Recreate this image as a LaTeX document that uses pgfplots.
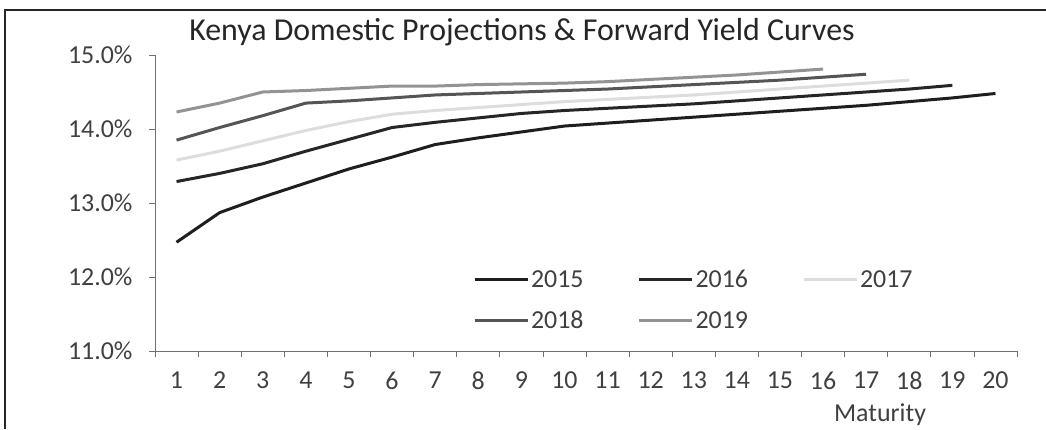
\documentclass[border=0pt]{standalone}
\usepackage{fontspec}
\setmainfont{Carlito}
\usepackage{pgfplots}
\pgfplotsset{compat=1.18}
\definecolor{c15}{HTML}{1E1E1E}
\definecolor{c16}{HTML}{262626}
\definecolor{c17}{HTML}{DDDDDD}
\definecolor{c18}{HTML}{555555}
\definecolor{c19}{HTML}{939393}
\definecolor{axc}{HTML}{707070}
\definecolor{txt}{HTML}{404040}
\begin{document}
\begin{tikzpicture}[x=1bp,y=1bp]
\path[use as bounding box] (0,0) rectangle (1046,429);
\draw[line width=1.5bp, black!85] (5,0) -- (5,419) -- (1046,419);
\begin{axis}[
  at={(155bp,78bp)}, anchor=origin,
  scale only axis, width=862bp, height=296bp,
  xmin=0.5, xmax=20.5, ymin=11, ymax=15,
  axis x line*=bottom, axis y line*=left,
  axis line style={axc, line width=0.8bp},
  xtick={1,...,20}, major x tick style={draw=none},
  minor xtick={0.5,1.5,...,20.5},
  minor x tick style={axc, line width=0.8bp},
  ytick={11,12,13,14,15},
  y tick style={axc, line width=0.8bp},
  tick align=outside, major tick length=6bp, minor tick length=6bp,
  tick label style={font=\fontsize{26}{28}\selectfont, text=txt},
  /pgf/number format/assume math mode=true,
  yticklabel={\pgfmathprintnumber[fixed,fixed zerofill,precision=1]{\tick}\%},
  yticklabel style={xshift=-13bp},
  xticklabel style={yshift=-11bp},
  legend columns=3,
  legend style={at={(0.369,0.172)}, anchor=west, draw=none, fill=none,
    inner sep=0pt, outer sep=0pt,
    font=\fontsize{26}{28}\selectfont, text=txt,
    /tikz/row sep=18bp,
    /tikz/every even column/.append style={column sep=52bp}},
  legend image code/.code={\draw[#1] (0bp,0bp) -- (53bp,0bp);},
  every axis plot/.append style={line width=3bp},
]
\addplot[c15] coordinates {(1,12.47)(2,12.87)(3,13.08)(4,13.27)(5,13.46)(6,13.62)(7,13.79)(8,13.88)(9,13.96)(10,14.04)(11,14.08)(12,14.12)(13,14.16)(14,14.20)(15,14.24)(16,14.28)(17,14.32)(18,14.37)(19,14.42)(20,14.48)};
\addlegendentry{2015}
\addplot[c16] coordinates {(1,13.29)(2,13.40)(3,13.53)(4,13.70)(5,13.86)(6,14.02)(7,14.09)(8,14.15)(9,14.21)(10,14.25)(11,14.28)(12,14.31)(13,14.34)(14,14.38)(15,14.42)(16,14.46)(17,14.50)(18,14.54)(19,14.59)};
\addlegendentry{2016}
\addplot[c17] coordinates {(1,13.58)(2,13.70)(3,13.84)(4,13.98)(5,14.10)(6,14.20)(7,14.25)(8,14.29)(9,14.33)(10,14.37)(11,14.40)(12,14.43)(13,14.46)(14,14.50)(15,14.54)(16,14.58)(17,14.62)(18,14.66)};
\addlegendentry{2017}
\addplot[c18] coordinates {(1,13.85)(2,14.02)(3,14.18)(4,14.35)(5,14.38)(6,14.42)(7,14.46)(8,14.48)(9,14.50)(10,14.52)(11,14.54)(12,14.57)(13,14.60)(14,14.63)(15,14.66)(16,14.70)(17,14.74)};
\addlegendentry{2018}
\addplot[c19] coordinates {(1,14.23)(2,14.35)(3,14.50)(4,14.52)(5,14.55)(6,14.58)(7,14.58)(8,14.60)(9,14.61)(10,14.62)(11,14.64)(12,14.67)(13,14.70)(14,14.73)(15,14.77)(16,14.81)};
\addlegendentry{2019}
\end{axis}
\node[anchor=base, font=\fontsize{32}{34}\selectfont, text=black!85] at (522,388) {Kenya Domestic Projections \& Forward Yield Curves};
\node[anchor=base, font=\fontsize{26}{28}\selectfont, text=txt] at (880,8) {Maturity};
\end{tikzpicture}
\end{document}
